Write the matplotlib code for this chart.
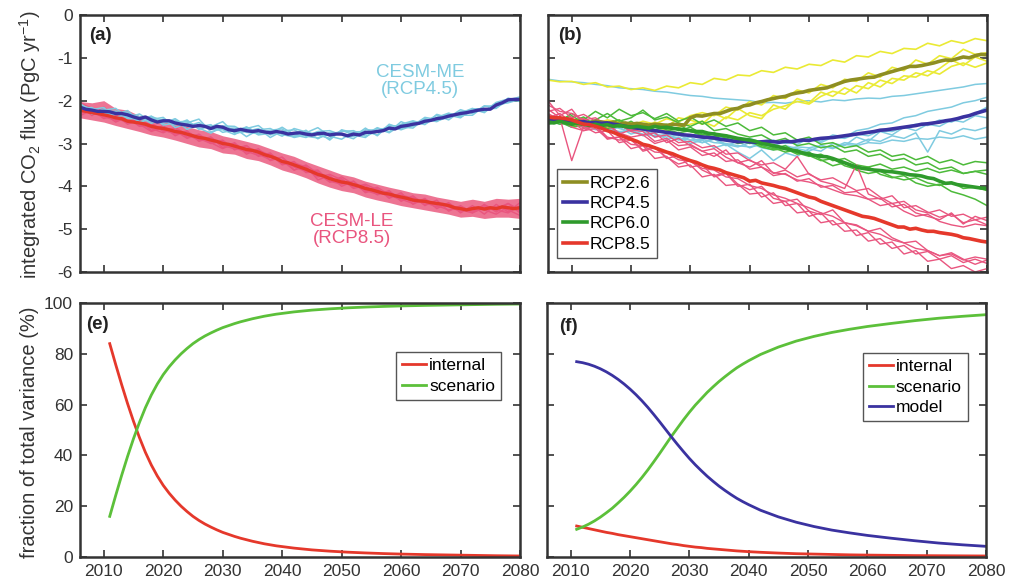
import numpy as np
import matplotlib
matplotlib.use("Agg")
import matplotlib.pyplot as plt

# ---------------- data ----------------
YEARS = np.arange(2006, 2081)        # annual (ensemble means)
YEARS2 = np.arange(2006, 2081, 2)    # members, every 2nd year

# panel (a): CESM-ME (RCP4.5) and CESM-LE (RCP8.5)
me_mean = [-2.15, -2.20, -2.22, -2.25, -2.25, -2.26, -2.30, -2.30, -2.33, -2.38,
           -2.42, -2.38, -2.45, -2.50, -2.47, -2.47, -2.52, -2.55, -2.57, -2.60,
           -2.58, -2.60, -2.65, -2.60, -2.62, -2.68, -2.70, -2.67, -2.70, -2.72,
           -2.70, -2.73, -2.75, -2.72, -2.74, -2.78, -2.76, -2.75, -2.78, -2.80,
           -2.77, -2.76, -2.80, -2.78, -2.78, -2.82, -2.78, -2.80, -2.74, -2.74,
           -2.72, -2.70, -2.64, -2.66, -2.60, -2.58, -2.55, -2.53, -2.48, -2.46,
           -2.42, -2.40, -2.36, -2.33, -2.30, -2.28, -2.25, -2.22, -2.20, -2.20,
           -2.10, -2.05, -1.98, -1.97, -1.97]
le_mean = [-2.22, -2.25, -2.28, -2.30, -2.33, -2.36, -2.40, -2.42, -2.48, -2.50,
           -2.52, -2.55, -2.60, -2.63, -2.65, -2.68, -2.72, -2.74, -2.78, -2.82,
           -2.86, -2.88, -2.92, -2.95, -3.00, -3.02, -3.06, -3.10, -3.14, -3.16,
           -3.20, -3.26, -3.30, -3.35, -3.42, -3.45, -3.50, -3.55, -3.60, -3.66,
           -3.72, -3.76, -3.82, -3.86, -3.90, -3.92, -3.96, -4.00, -4.05, -4.08,
           -4.12, -4.16, -4.18, -4.22, -4.25, -4.28, -4.32, -4.34, -4.35, -4.38,
           -4.40, -4.42, -4.45, -4.50, -4.52, -4.55, -4.52, -4.50, -4.53, -4.50,
           -4.52, -4.48, -4.50, -4.52, -4.50]

me_members = [
    [-2.08, -2.27, -2.22, -2.18, -2.39, -2.44, -2.36, -2.57, -2.52, -2.52,
     -2.43, -2.73, -2.65, -2.64, -2.84, -2.68, -2.65, -2.79, -2.85, -2.75,
     -2.63, -2.83, -2.90, -2.73, -2.72, -2.80, -2.55, -2.66, -2.52, -2.50,
     -2.34, -2.45, -2.25, -2.23, -2.26, -2.07, -2.03, -1.95],
    [-2.19, -2.16, -2.33, -2.32, -2.23, -2.49, -2.44, -2.39, -2.63, -2.53,
     -2.61, -2.56, -2.74, -2.68, -2.63, -2.80, -2.76, -2.62, -2.80, -2.86,
     -2.72, -2.70, -2.80, -2.89, -2.68, -2.69, -2.73, -2.49, -2.60, -2.44,
     -2.49, -2.34, -2.40, -2.19, -2.19, -2.18, -1.94, -2.00],
    [-2.13, -2.31, -2.20, -2.27, -2.40, -2.31, -2.49, -2.49, -2.45, -2.67,
     -2.57, -2.61, -2.49, -2.76, -2.72, -2.65, -2.86, -2.71, -2.68, -2.83,
     -2.87, -2.78, -2.72, -2.70, -2.83, -2.71, -2.60, -2.68, -2.58, -2.39,
     -2.44, -2.31, -2.34, -2.34, -2.13, -2.12, -2.04, -1.93],
    [-2.21, -2.21, -2.16, -2.40, -2.30, -2.37, -2.53, -2.43, -2.50, -2.48,
     -2.64, -2.76, -2.59, -2.60, -2.74, -2.77, -2.71, -2.83, -2.65, -2.73,
     -2.80, -2.88, -2.69, -2.80, -2.86, -2.65, -2.67, -2.55, -2.47, -2.55,
     -2.39, -2.29, -2.38, -2.24, -2.25, -2.04, -1.96, -2.02],
    [-2.12, -2.18, -2.30, -2.24, -2.42, -2.42, -2.40, -2.53, -2.42, -2.60,
     -2.51, -2.67, -2.68, -2.79, -2.65, -2.58, -2.80, -2.72, -2.83, -2.69,
     -2.89, -2.74, -2.77, -2.84, -2.64, -2.82, -2.57, -2.61, -2.64, -2.42,
     -2.47, -2.39, -2.21, -2.30, -2.12, -2.17, -1.99, -1.91],
    [-2.07, -2.24, -2.32, -2.28, -2.28, -2.52, -2.37, -2.47, -2.57, -2.45,
     -2.67, -2.59, -2.60, -2.74, -2.61, -2.76, -2.69, -2.66, -2.86, -2.80,
     -2.73, -2.92, -2.68, -2.75, -2.79, -2.63, -2.75, -2.57, -2.49, -2.56,
     -2.32, -2.40, -2.29, -2.18, -2.28, -2.06, -2.05, -1.97],
]

le_hi = [-2.02, -2.05, -2.00, -2.18, -2.22, -2.35, -2.38, -2.48, -2.52, -2.60,
         -2.68, -2.72, -2.82, -2.88, -2.95, -3.02, -3.12, -3.22, -3.30, -3.42,
         -3.52, -3.62, -3.72, -3.78, -3.88, -3.95, -4.02, -4.08, -4.15, -4.18,
         -4.25, -4.30, -4.35, -4.30, -4.35, -4.28, -4.30, -4.28]
le_lo = [-2.40, -2.45, -2.50, -2.58, -2.65, -2.72, -2.80, -2.85, -2.92, -3.00,
         -3.08, -3.12, -3.22, -3.25, -3.35, -3.40, -3.50, -3.62, -3.70, -3.80,
         -3.92, -4.02, -4.10, -4.15, -4.25, -4.32, -4.38, -4.45, -4.50, -4.55,
         -4.60, -4.65, -4.72, -4.70, -4.75, -4.72, -4.72, -4.75]

le_members = [
    [-2.15, -2.30, -2.25, -2.45, -2.40, -2.60, -2.52, -2.72, -2.65, -2.85,
     -2.80, -3.00, -2.92, -3.15, -3.05, -3.30, -3.22, -3.50, -3.42, -3.68,
     -3.65, -3.90, -3.82, -4.05, -3.98, -4.20, -4.10, -4.35, -4.22, -4.45,
     -4.32, -4.58, -4.45, -4.62, -4.42, -4.60, -4.40, -4.62],
    [-2.30, -2.20, -2.42, -2.32, -2.55, -2.45, -2.70, -2.58, -2.82, -2.70,
     -2.95, -2.85, -3.10, -2.98, -3.25, -3.12, -3.40, -3.32, -3.62, -3.52,
     -3.85, -3.75, -4.00, -3.88, -4.15, -4.05, -4.28, -4.15, -4.42, -4.28,
     -4.52, -4.38, -4.62, -4.45, -4.65, -4.42, -4.60, -4.38],
    [-2.10, -2.35, -2.15, -2.40, -2.52, -2.40, -2.65, -2.75, -2.62, -2.80,
     -2.92, -2.85, -3.05, -3.12, -3.05, -3.25, -3.38, -3.32, -3.55, -3.65,
     -3.62, -3.88, -3.95, -3.88, -4.10, -4.18, -4.12, -4.30, -4.40, -4.30,
     -4.45, -4.55, -4.48, -4.58, -4.48, -4.55, -4.62, -4.45],
    [-2.25, -2.28, -2.38, -2.45, -2.42, -2.58, -2.62, -2.68, -2.78, -2.72,
     -2.88, -3.00, -2.95, -3.10, -3.20, -3.15, -3.28, -3.48, -3.45, -3.55,
     -3.78, -3.72, -3.85, -4.02, -3.95, -4.08, -4.25, -4.20, -4.28, -4.42,
     -4.38, -4.48, -4.58, -4.50, -4.55, -4.65, -4.48, -4.58],
    [-2.35, -2.22, -2.30, -2.50, -2.38, -2.55, -2.72, -2.62, -2.70, -2.88,
     -2.78, -2.98, -3.12, -3.00, -3.18, -3.28, -3.25, -3.40, -3.62, -3.50,
     -3.70, -3.90, -3.78, -3.95, -4.12, -4.02, -4.20, -4.32, -4.25, -4.38,
     -4.48, -4.40, -4.55, -4.62, -4.50, -4.48, -4.55, -4.68],
    [-2.05, -2.18, -2.28, -2.35, -2.50, -2.48, -2.55, -2.70, -2.75, -2.78,
     -2.90, -2.90, -3.00, -3.05, -3.12, -3.22, -3.30, -3.45, -3.50, -3.62,
     -3.75, -3.82, -3.92, -3.98, -4.05, -4.15, -4.22, -4.25, -4.35, -4.35,
     -4.42, -4.45, -4.50, -4.55, -4.45, -4.52, -4.40, -4.55],
]

# panel (b): scenario ensembles
rcp26_mean = [-2.45, -2.42, -2.48, -2.45, -2.50, -2.47, -2.50, -2.52, -2.48, -2.50,
              -2.53, -2.50, -2.55, -2.52, -2.55, -2.53, -2.55, -2.57, -2.55, -2.56,
              -2.58, -2.55, -2.56, -2.57, -2.40, -2.35, -2.36, -2.33, -2.30, -2.30,
              -2.25, -2.20, -2.18, -2.12, -2.10, -2.05, -2.02, -1.98, -1.95, -1.92,
              -1.90, -1.85, -1.82, -1.80, -1.76, -1.74, -1.72, -1.70, -1.65, -1.60,
              -1.55, -1.52, -1.50, -1.48, -1.46, -1.45, -1.40, -1.36, -1.32, -1.28,
              -1.24, -1.20, -1.20, -1.18, -1.15, -1.12, -1.08, -1.05, -1.06, -1.02,
              -0.98, -1.00, -0.95, -0.92, -0.93]
rcp45_mean = [-2.45, -2.46, -2.44, -2.48, -2.47, -2.50, -2.49, -2.52, -2.51, -2.53,
              -2.52, -2.55, -2.57, -2.60, -2.62, -2.64, -2.66, -2.68, -2.70, -2.72,
              -2.74, -2.76, -2.78, -2.80, -2.81, -2.83, -2.85, -2.86, -2.87, -2.90,
              -2.92, -2.94, -2.96, -2.95, -2.96, -2.97, -2.96, -2.95, -2.96, -2.97,
              -2.95, -2.96, -2.94, -2.92, -2.93, -2.90, -2.88, -2.87, -2.86, -2.84,
              -2.82, -2.80, -2.78, -2.76, -2.74, -2.72, -2.69, -2.68, -2.66, -2.64,
              -2.62, -2.60, -2.58, -2.55, -2.54, -2.52, -2.50, -2.47, -2.45, -2.42,
              -2.38, -2.35, -2.30, -2.26, -2.22]
rcp60_mean = [-2.50, -2.52, -2.48, -2.52, -2.55, -2.53, -2.55, -2.58, -2.55, -2.58,
              -2.56, -2.60, -2.58, -2.60, -2.62, -2.60, -2.62, -2.64, -2.60, -2.63,
              -2.62, -2.65, -2.66, -2.68, -2.70, -2.72, -2.72, -2.76, -2.78, -2.80,
              -2.82, -2.85, -2.88, -2.90, -2.92, -2.95, -3.00, -3.02, -3.05, -3.08,
              -3.12, -3.15, -3.18, -3.22, -3.25, -3.28, -3.30, -3.31, -3.35, -3.40,
              -3.45, -3.50, -3.55, -3.58, -3.60, -3.62, -3.63, -3.65, -3.66, -3.68,
              -3.70, -3.73, -3.74, -3.76, -3.80, -3.82, -3.88, -3.93, -3.92, -3.96,
              -3.98, -4.00, -4.02, -4.04, -4.05]
rcp85_mean = [-2.38, -2.40, -2.40, -2.42, -2.45, -2.50, -2.55, -2.56, -2.60, -2.64,
              -2.70, -2.74, -2.80, -2.85, -2.90, -2.95, -3.02, -3.05, -3.10, -3.15,
              -3.20, -3.24, -3.30, -3.35, -3.40, -3.44, -3.50, -3.55, -3.58, -3.62,
              -3.68, -3.72, -3.76, -3.80, -3.88, -3.86, -3.92, -3.95, -3.98, -4.02,
              -4.05, -4.10, -4.15, -4.20, -4.25, -4.28, -4.35, -4.40, -4.45, -4.50,
              -4.55, -4.60, -4.65, -4.70, -4.72, -4.75, -4.80, -4.85, -4.90, -4.95,
              -4.95, -5.00, -4.98, -5.02, -5.05, -5.05, -5.08, -5.10, -5.12, -5.15,
              -5.20, -5.22, -5.25, -5.28, -5.30]

rcp26_members = [
    [-1.52, -1.56, -1.55, -1.62, -1.58, -1.68, -1.66, -1.74, -1.70, -1.76,
     -1.66, -1.70, -1.58, -1.62, -1.48, -1.52, -1.40, -1.42, -1.30, -1.34,
     -1.22, -1.26, -1.15, -1.18, -1.05, -1.10, -0.95, -0.98, -0.85, -0.90,
     -0.78, -0.80, -0.66, -0.72, -0.60, -0.66, -0.55, -0.60],
    [-2.45, -2.40, -2.52, -2.42, -2.55, -2.45, -2.50, -2.58, -2.48, -2.55,
     -2.42, -2.50, -2.35, -2.28, -2.35, -2.15, -2.22, -2.02, -2.10, -1.88,
     -1.95, -1.75, -1.82, -1.62, -1.70, -1.50, -1.55, -1.35, -1.45, -1.22,
     -1.30, -1.05, -1.15, -0.95, -1.02, -0.80, -0.92, -0.88],
    [-2.35, -2.48, -2.40, -2.55, -2.50, -2.62, -2.45, -2.60, -2.65, -2.50,
     -2.62, -2.40, -2.45, -2.55, -2.30, -2.42, -2.18, -2.35, -2.42, -2.10,
     -2.20, -1.95, -2.05, -1.80, -1.90, -1.70, -1.82, -1.58, -1.68, -1.48,
     -1.52, -1.35, -1.42, -1.25, -1.05, -1.18, -0.98, -1.08],
    [-2.50, -2.45, -2.60, -2.55, -2.48, -2.65, -2.55, -2.52, -2.68, -2.58,
     -2.70, -2.62, -2.55, -2.48, -2.60, -2.38, -2.45, -2.28, -2.35, -2.20,
     -2.12, -2.02, -2.08, -1.90, -1.78, -1.85, -1.65, -1.72, -1.52, -1.60,
     -1.42, -1.45, -1.30, -1.38, -1.20, -1.12, -1.22, -1.12],
]
rcp45_members = [
    [-1.50, -1.54, -1.56, -1.58, -1.62, -1.65, -1.70, -1.72, -1.74, -1.78,
     -1.80, -1.84, -1.88, -1.90, -1.94, -1.96, -1.98, -2.00, -2.05, -2.04,
     -2.06, -2.02, -2.00, -2.03, -1.98, -2.00, -1.96, -1.94, -1.95, -1.90,
     -1.88, -1.84, -1.80, -1.76, -1.72, -1.68, -1.62, -1.60],
    [-2.40, -2.52, -2.45, -2.60, -2.55, -2.70, -2.62, -2.78, -2.70, -2.85,
     -2.78, -2.92, -2.85, -2.98, -2.90, -3.05, -2.95, -3.10, -3.00, -3.05,
     -2.95, -3.02, -2.88, -2.95, -2.80, -2.85, -2.70, -2.65, -2.55, -2.52,
     -2.40, -2.35, -2.25, -2.20, -2.15, -2.05, -2.00, -1.92],
    [-2.55, -2.48, -2.62, -2.55, -2.68, -2.60, -2.75, -2.68, -2.82, -2.75,
     -2.90, -2.85, -3.00, -2.92, -3.10, -3.02, -3.20, -3.35, -3.15, -3.40,
     -3.22, -3.30, -3.12, -3.18, -3.00, -3.05, -2.85, -2.95, -2.72, -2.80,
     -2.62, -2.70, -2.55, -2.60, -2.45, -2.50, -2.35, -2.40],
    [-2.35, -2.45, -2.42, -2.50, -2.58, -2.52, -2.65, -2.72, -2.65, -2.78,
     -2.85, -2.80, -2.92, -2.98, -2.88, -3.02, -3.08, -2.98, -3.10, -3.15,
     -3.05, -3.12, -3.18, -3.05, -3.10, -2.98, -3.02, -2.90, -2.95, -2.82,
     -2.88, -2.75, -3.20, -2.70, -2.78, -2.65, -2.70, -2.62],
    [-2.50, -2.42, -2.55, -2.48, -2.62, -2.58, -2.55, -2.68, -2.62, -2.72,
     -2.70, -2.78, -2.82, -2.75, -2.88, -2.85, -2.92, -2.88, -2.98, -2.92,
     -3.00, -2.95, -2.90, -2.98, -2.85, -2.88, -2.78, -2.82, -2.70, -2.72,
     -2.62, -2.55, -2.58, -2.45, -2.50, -2.38, -2.30, -2.15],
    [-2.45, -2.55, -2.50, -2.62, -2.60, -2.66, -2.72, -2.70, -2.78, -2.82,
     -2.80, -2.88, -2.92, -2.90, -2.98, -3.00, -3.05, -3.08, -3.02, -3.10,
     -3.12, -3.08, -3.10, -3.05, -3.12, -3.02, -3.05, -2.98, -3.00, -2.92,
     -2.95, -2.88, -2.90, -2.85, -2.88, -2.82, -2.90, -2.85],
]
rcp60_members = [
    [-2.35, -2.48, -2.30, -2.45, -2.25, -2.40, -2.20, -2.35, -2.28, -2.42,
     -2.30, -2.48, -2.38, -2.55, -2.45, -2.60, -2.52, -2.70, -2.62, -2.80,
     -2.75, -2.92, -2.85, -3.02, -2.98, -3.10, -3.05, -3.20, -3.15, -3.30,
     -3.25, -3.38, -3.30, -3.45, -3.38, -3.50, -3.42, -3.45],
    [-2.50, -2.42, -2.58, -2.48, -2.62, -2.52, -2.45, -2.60, -2.55, -2.68,
     -2.62, -2.55, -2.72, -2.80, -2.75, -2.88, -2.95, -2.90, -3.05, -3.12,
     -3.05, -3.22, -3.30, -3.25, -3.40, -3.35, -3.50, -3.55, -3.48, -3.60,
     -3.55, -3.65, -3.58, -3.68, -3.62, -3.70, -3.65, -3.62],
    [-2.45, -2.55, -2.50, -2.38, -2.58, -2.50, -2.62, -2.48, -2.65, -2.58,
     -2.55, -2.70, -2.62, -2.78, -2.85, -2.80, -2.92, -3.00, -2.95, -3.10,
     -3.20, -3.15, -3.28, -3.40, -3.35, -3.52, -3.60, -3.55, -3.72, -3.80,
     -3.75, -3.92, -4.00, -3.95, -4.12, -4.20, -4.30, -4.45],
    [-2.55, -2.50, -2.62, -2.58, -2.52, -2.65, -2.58, -2.70, -2.62, -2.55,
     -2.68, -2.75, -2.70, -2.82, -2.90, -2.88, -3.00, -2.95, -3.08, -3.15,
     -3.12, -3.25, -3.20, -3.38, -3.52, -3.45, -3.62, -3.70, -3.65, -3.78,
     -3.85, -3.80, -3.92, -3.98, -3.90, -4.05, -4.02, -4.10],
    [-2.40, -2.48, -2.35, -2.52, -2.45, -2.30, -2.48, -2.40, -2.22, -2.45,
     -2.38, -2.52, -2.60, -2.48, -2.70, -2.65, -2.78, -2.85, -2.80, -2.95,
     -2.88, -3.05, -3.00, -3.10, -3.05, -3.20, -3.15, -3.30, -3.25, -3.40,
     -3.35, -3.50, -3.45, -3.60, -3.55, -3.70, -3.65, -3.72],
]
rcp85_members = [
    [-2.10, -2.25, -2.30, -2.45, -2.40, -2.58, -2.55, -2.70, -2.65, -2.85,
     -2.80, -2.98, -2.95, -3.10, -3.05, -3.25, -3.22, -3.40, -3.50, -3.45,
     -3.60, -3.30, -3.72, -3.85, -3.80, -3.95, -4.10, -4.05, -4.25, -4.40,
     -4.35, -4.55, -4.62, -4.55, -4.70, -4.65, -4.78, -4.72],
    [-2.25, -2.18, -2.40, -2.32, -2.48, -2.60, -2.55, -2.72, -2.80, -2.75,
     -2.98, -2.88, -3.05, -3.18, -3.12, -3.32, -3.45, -3.38, -3.55, -3.68,
     -3.72, -3.85, -3.90, -3.98, -4.08, -4.18, -4.22, -4.30, -4.45, -4.40,
     -4.58, -4.70, -4.65, -4.82, -4.90, -4.95, -4.88, -4.92],
    [-2.00, -2.35, -2.20, -2.55, -2.45, -2.50, -2.78, -2.68, -2.72, -2.95,
     -2.88, -3.05, -3.02, -3.18, -3.30, -3.15, -3.45, -3.55, -3.40, -3.70,
     -3.62, -3.78, -3.70, -3.88, -3.95, -4.05, -3.50, -4.18, -4.30, -4.22,
     -4.50, -4.45, -4.60, -4.72, -4.65, -4.85, -4.78, -4.90],
    [-2.40, -2.30, -2.50, -2.42, -2.62, -2.58, -2.75, -2.85, -2.80, -3.00,
     -2.92, -3.15, -3.08, -3.28, -3.22, -3.42, -3.38, -3.60, -3.55, -3.75,
     -3.70, -3.88, -3.82, -4.02, -3.98, -4.15, -4.12, -4.30, -4.28, -4.48,
     -4.42, -4.62, -4.70, -4.78, -4.62, -4.88, -4.70, -4.80],
    [-2.30, -2.45, -2.40, -2.65, -2.60, -2.90, -2.85, -3.12, -3.05, -3.35,
     -3.30, -3.55, -3.50, -3.78, -3.72, -3.98, -3.95, -4.18, -4.15, -4.40,
     -4.35, -4.62, -4.58, -4.85, -4.80, -5.05, -5.02, -5.28, -5.22, -5.45,
     -5.38, -5.58, -5.52, -5.70, -5.62, -5.78, -5.70, -5.80],
    [-2.45, -2.38, -2.62, -2.70, -2.58, -2.85, -2.92, -2.88, -3.18, -3.10,
     -3.32, -3.48, -3.40, -3.62, -3.75, -3.68, -3.95, -4.08, -4.00, -4.28,
     -4.35, -4.30, -4.58, -4.66, -4.55, -4.85, -4.90, -5.05, -4.98, -5.20,
     -5.32, -5.28, -5.50, -5.62, -5.55, -5.70, -5.82, -5.72],
    [-2.20, -2.40, -3.40, -2.60, -2.75, -2.70, -2.98, -2.92, -3.15, -3.08,
     -3.35, -3.28, -3.55, -3.50, -3.78, -3.70, -4.00, -3.95, -4.25, -4.15,
     -4.45, -4.40, -4.70, -4.62, -4.90, -4.85, -5.15, -5.08, -5.35, -5.30,
     -5.58, -5.50, -5.75, -5.70, -5.92, -5.85, -6.00, -5.92],
    [-2.35, -2.50, -2.48, -2.70, -2.65, -2.88, -2.85, -3.02, -3.05, -3.20,
     -3.22, -3.38, -3.42, -3.58, -3.62, -3.78, -3.82, -3.98, -4.05, -4.20,
     -4.28, -4.40, -4.50, -4.62, -4.70, -4.85, -4.92, -5.05, -5.12, -5.25,
     -5.32, -5.45, -5.50, -5.62, -5.58, -5.72, -5.65, -5.70],
]

# panels (e), (f): fraction of total variance (%)
frac_years = list(range(2011, 2041)) + [2042, 2045, 2048, 2051, 2054, 2057,
                                        2060, 2064, 2068, 2072, 2076, 2080]
e_internal = [84.0, 75.8, 67.9, 60.4, 53.4, 47.0, 41.2, 36.2, 31.9, 28.2,
              25.1, 22.4, 20.0, 17.9, 16.0, 14.4, 13.0, 11.8, 10.7, 9.7,
              8.9, 8.1, 7.4, 6.8, 6.2, 5.7, 5.2, 4.8, 4.4, 4.1,
              3.5, 2.8, 2.3, 1.9, 1.6, 1.35, 1.15, 0.95, 0.8, 0.65, 0.5, 0.4]
e_scenario = [16.0, 24.2, 32.1, 39.6, 46.6, 53.0, 58.8, 63.8, 68.1, 71.8,
              74.9, 77.6, 80.0, 82.1, 84.0, 85.6, 87.0, 88.2, 89.3, 90.3,
              91.1, 91.9, 92.6, 93.2, 93.8, 94.3, 94.8, 95.2, 95.6, 95.9,
              96.5, 97.2, 97.7, 98.1, 98.4, 98.65, 98.85, 99.05, 99.2, 99.35, 99.5, 99.6]
f_model = [76.9, 76.5, 75.9, 75.1, 74.1, 72.9, 71.5, 69.9, 68.1, 66.1,
           63.9, 61.5, 58.9, 56.1, 53.2, 50.2, 47.2, 44.3, 41.5, 38.8,
           36.3, 34.0, 31.8, 29.8, 27.9, 26.2, 24.6, 23.1, 21.8, 20.6,
           18.4, 15.8, 13.7, 12.0, 10.6, 9.5, 8.5, 7.4, 6.4, 5.5, 4.8, 4.2]
f_internal = [12.2, 11.7, 11.2, 10.7, 10.2, 9.7, 9.3, 8.8, 8.4, 8.0,
              7.6, 7.2, 6.8, 6.4, 6.0, 5.6, 5.2, 4.9, 4.5, 4.2,
              3.9, 3.7, 3.4, 3.2, 3.0, 2.8, 2.6, 2.4, 2.25, 2.1,
              1.85, 1.55, 1.3, 1.15, 1.0, 0.85, 0.75, 0.65, 0.55, 0.5, 0.45, 0.4]
f_scenario = [10.9, 11.8, 12.9, 14.2, 15.7, 17.4, 19.2, 21.3, 23.5, 25.9,
              28.5, 31.3, 34.3, 37.5, 40.8, 44.2, 47.6, 50.8, 54.0, 57.0,
              59.8, 62.3, 64.8, 67.0, 69.1, 71.0, 72.8, 74.5, 75.95, 77.3,
              79.75, 82.65, 85.0, 86.85, 88.4, 89.65, 90.75, 91.95, 93.05, 94.0, 94.75, 95.4]

# ---------------- style ----------------
plt.rcParams.update({
    "font.family": "Liberation Sans",
    "font.size": 12.5,
    "axes.unicode_minus": False,
    "mathtext.fontset": "custom",
    "mathtext.rm": "Liberation Sans",
    "mathtext.it": "Liberation Sans:italic",
    "mathtext.bf": "Liberation Sans:bold",
})

FRAME = "#333333"
LBLUE = "#7fcbe0"
INDIGO = "#3a32a0"
PINK = "#e9557f"
BAND = "#e8466f"
RED = "#e5382b"
YELLOW = "#eaea34"
OLIVE = "#8e8e22"
LGREEN = "#4cba3a"
DGREEN = "#2f9a2c"
GREEN2 = "#5cc03a"

W, H = 1023, 583


def style(ax, ylim, yticks, xlabels, ylabels):
    ax.set_xlim(2006, 2080)
    ax.set_ylim(*ylim)
    ax.set_xticks(range(2010, 2081, 10))
    ax.set_yticks(yticks)
    ax.tick_params(direction="in", top=True, right=True, length=5, width=1.2,
                   color=FRAME, labelcolor="#333333", pad=5, labelsize=12.5)
    if not xlabels:
        ax.set_xticklabels([])
    if not ylabels:
        ax.set_yticklabels([])
    for s in ax.spines.values():
        s.set_linewidth(1.8)
        s.set_color(FRAME)


def legend(ax, **kw):
    lg = ax.legend(frameon=True, fancybox=False, framealpha=1, edgecolor="#555555",
                   fontsize=12.5, handlelength=1.4, handletextpad=0.15,
                   labelspacing=0.3, borderpad=0.35, borderaxespad=0, **kw)
    lg.get_frame().set_linewidth(1.0)
    return lg


def panel_label(ax, x, y, s):
    ax.text(x, y, s, transform=ax.transAxes, fontsize=13.5, fontweight="bold",
            va="top", color="#222222")


fig = plt.figure(figsize=(W / 100, H / 100), dpi=100)
ax_a = fig.add_axes([80 / W, 1 - 272 / H, 440 / W, 257 / H])
ax_b = fig.add_axes([548 / W, 1 - 272 / H, 439 / W, 257 / H])
ax_e = fig.add_axes([80 / W, 1 - 557 / H, 440 / W, 254 / H])
ax_f = fig.add_axes([547 / W, 1 - 557 / H, 439 / W, 254 / H])

# (a)
ax_a.fill_between(YEARS2, le_lo, le_hi, color=BAND, alpha=0.75, lw=0)
for m in le_members:
    ax_a.plot(YEARS2, m, color=PINK, lw=1.0)
for m in me_members:
    ax_a.plot(YEARS2, m, color=LBLUE, lw=1.1)
ax_a.plot(YEARS, le_mean, color=RED, lw=2.4)
ax_a.plot(YEARS, me_mean, color=INDIGO, lw=2.4)
ax_a.text(2063.2, -1.54, "CESM-ME\n(RCP4.5)", color=LBLUE, fontsize=13.5,
          ha="center", va="center", linespacing=1.0)
ax_a.text(2051.7, -5.02, "CESM-LE\n(RCP8.5)", color=PINK, fontsize=13.5,
          ha="center", va="center", linespacing=1.0)
panel_label(ax_a, 0.02, 0.955, "(a)")
style(ax_a, (-6, 0), range(-6, 1), False, True)

# (b)
for m in rcp45_members:
    ax_b.plot(YEARS2, m, color=LBLUE, lw=1.1)
for m in rcp26_members:
    ax_b.plot(YEARS2, m, color=YELLOW, lw=1.2)
for m in rcp60_members:
    ax_b.plot(YEARS2, m, color=LGREEN, lw=1.1)
for m in rcp85_members:
    ax_b.plot(YEARS2, m, color=PINK, lw=1.0)
ax_b.plot(YEARS, rcp26_mean, color=OLIVE, lw=2.6, label="RCP2.6")
ax_b.plot(YEARS, rcp45_mean, color=INDIGO, lw=2.6, label="RCP4.5")
ax_b.plot(YEARS, rcp60_mean, color=DGREEN, lw=2.6, label="RCP6.0")
ax_b.plot(YEARS, rcp85_mean, color=RED, lw=2.6, label="RCP8.5")
panel_label(ax_b, 0.022, 0.955, "(b)")
legend(ax_b, loc="lower left", bbox_to_anchor=(0.02, 0.055))
style(ax_b, (-6, 0), range(-6, 1), False, False)

# (e)
ax_e.plot(frac_years, e_internal, color=RED, lw=2.0, label="internal")
ax_e.plot(frac_years, e_scenario, color=GREEN2, lw=2.0, label="scenario")
panel_label(ax_e, 0.014, 0.95, "(e)")
legend(ax_e, loc="upper right", bbox_to_anchor=(0.957, 0.807))
style(ax_e, (0, 100), range(0, 101, 20), True, True)

# (f)
ax_f.plot(frac_years, f_internal, color=RED, lw=2.0, label="internal")
ax_f.plot(frac_years, f_scenario, color=GREEN2, lw=2.0, label="scenario")
ax_f.plot(frac_years, f_model, color=INDIGO, lw=2.0, label="model")
panel_label(ax_f, 0.028, 0.94, "(f)")
legend(ax_f, loc="upper right", bbox_to_anchor=(0.959, 0.803))
style(ax_f, (0, 100), range(0, 101, 20), True, False)

fig.text(30 / W, 1 - 145 / H, r"integrated CO$_2$ flux (PgC yr$^{-1}$)", rotation=90,
         ha="center", va="center", fontsize=14.5, color="#333333")
fig.text(30 / W, 1 - 432 / H, "fraction of total variance (%)", rotation=90,
         ha="center", va="center", fontsize=14.5, color="#333333")

fig.savefig("out.png", dpi=100)
